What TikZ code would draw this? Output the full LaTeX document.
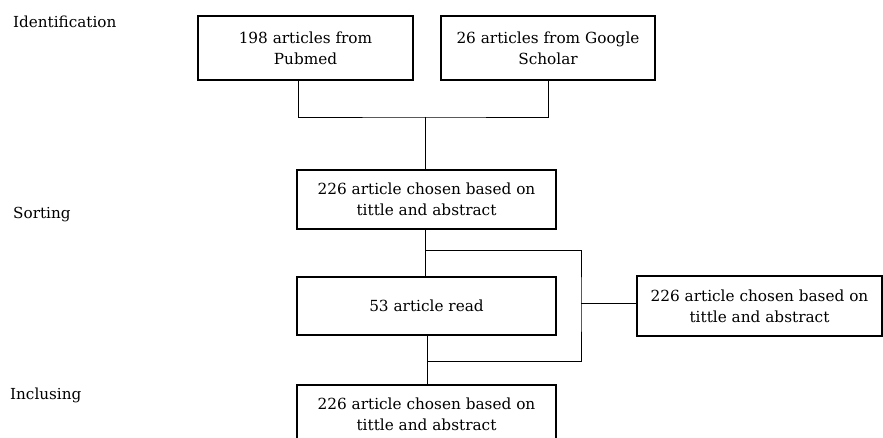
\documentclass[tikz,border=0pt]{standalone}
\usepackage{fontspec}
\setmainfont{DejaVu Serif}
\begin{document}
\begin{tikzpicture}[x=1pt,y=-1pt,
  box/.style={draw,line width=1.1pt,align=center,inner sep=0pt,
    font=\fontsize{15.3}{21}\selectfont},
  lbl/.style={anchor=west,inner sep=0pt,font=\fontsize{15.2}{18}\selectfont},
  conn/.style={line width=0.7pt}]
\useasboundingbox (0,0) rectangle (883,438);
\clip (0,0) rectangle (883,438);
\node[lbl] (lid) at (13,22) {Identification};
\node[lbl] (lso) at (13,215) {Sorting};
\node[lbl] (lin) at (10,395) {Inclusing};
\node[box,minimum width=215pt,minimum height=64pt] (b1) at (305.5,48) {198 articles from\\Pubmed};
\node[box,minimum width=214pt,minimum height=64pt] (b2) at (548,48) {26 articles from Google\\Scholar};
\node[box,minimum width=259pt,minimum height=59pt] (b3) at (426.5,199.5) {226 article chosen based on\\tittle and abstract};
\node[box,minimum width=259pt,minimum height=58pt] (b4) at (426.5,306) {53 article read};
\node[box,minimum width=245pt,minimum height=60pt] (b6) at (759.5,306) {226 article chosen based on\\tittle and abstract};
\node[box,minimum width=259pt,minimum height=59pt] (b5) at (426.5,414.5) {226 article chosen based on\\tittle and abstract};
\coordinate (j1) at (425,117);
\coordinate (j2) at (425,250);
\coordinate (j3) at (427,361);
\coordinate (k) at (581,303);
\draw[conn] ([xshift=-7.5pt]b1.south) |- (j1) -| (b2.south);
\draw[conn] (j1) -- (j1 |- b3.north);
\draw[conn] (j2 |- b3.south) -- (j2 |- b4.north);
\draw[conn] (j2) -| (k) |- (j3);
\draw[conn] (k) -- (k -| b6.west);
\draw[conn] (j3 |- b4.south) -- (j3 |- b5.north);
\end{tikzpicture}
\end{document}
